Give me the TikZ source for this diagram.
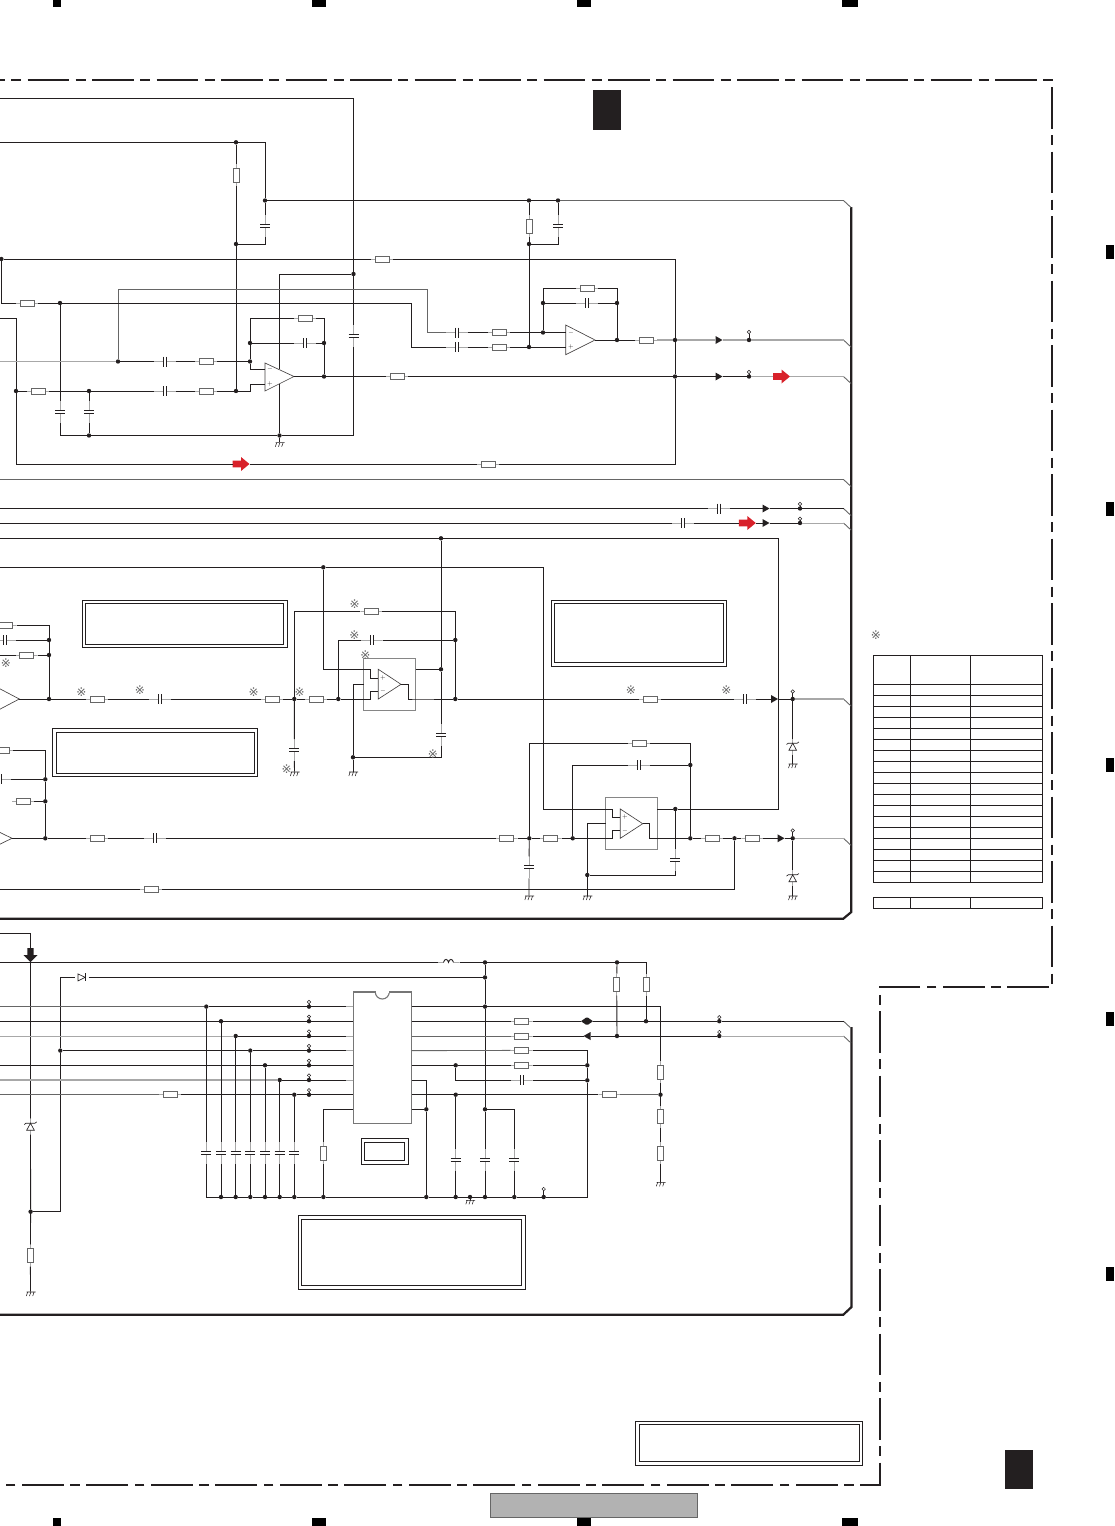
\documentclass[tikz,border=0pt]{standalone}
\usepackage{fontspec}
\newfontfamily\markfont{DejaVu Sans}
\usetikzlibrary{calc}
\definecolor{inkc}{HTML}{231F20}
\definecolor{leadc}{HTML}{A8A8A8}
\definecolor{midc}{HTML}{666666}
\definecolor{redc}{HTML}{D8212A}
\newcommand{\ppc}{path picture bounding box.center}
\tikzset{
wire/.style={draw=inkc,line width=0.9pt},
wireg/.style={draw=leadc,line width=1.3pt},
wirem/.style={draw=midc,line width=0.9pt},
box/.style={draw=inkc,line width=0.9pt},
dot/.style={circle,fill=inkc,inner sep=0pt,outer sep=0pt,minimum size=4.4pt},
term/.style={circle,draw=inkc,fill=white,line width=0.5pt,inner sep=0pt,outer sep=0pt,minimum size=3.4pt},
part/.style={rectangle,inner sep=0pt,outer sep=0pt},
resH/.style={part,minimum width=22pt,minimum height=8pt,path picture={
	\begin{scope}[shift={(\ppc)}]
	\draw[wireg,line width=0.8pt] (-11,0) -- (11,0);
	\draw[draw=midc,fill=white,line width=0.9pt] (-7,-3) rectangle (7,3);
	\end{scope}}},
resV/.style={part,minimum width=8pt,minimum height=22pt,path picture={
	\begin{scope}[shift={(\ppc)}]
	\draw[wireg,line width=0.8pt] (0,-11) -- (0,11);
	\draw[draw=midc,fill=white,line width=0.9pt] (-3,-7) rectangle (3,7);
	\end{scope}}},
capH/.style={part,minimum width=22pt,minimum height=11pt,path picture={
	\begin{scope}[shift={(\ppc)}]
	\draw[wireg,line width=0.8pt] (-11,0) -- (11,0);
	\fill[white] (-1.4,-5) rectangle (1.4,5);
	\draw[wire] (-1.4,-5) -- (-1.4,5) (1.4,-5) -- (1.4,5);
	\end{scope}}},
capV/.style={part,minimum width=11pt,minimum height=22pt,path picture={
	\begin{scope}[shift={(\ppc)}]
	\draw[wireg,line width=0.8pt] (0,-11) -- (0,11);
	\fill[white] (-5,-1.4) rectangle (5,1.4);
	\draw[wire] (-5,-1.4) -- (5,-1.4) (-5,1.4) -- (5,1.4);
	\end{scope}}},
triR/.style={part,minimum width=7pt,minimum height=8pt,path picture={
	\fill[inkc,shift={(\ppc)}] (-3.5,-4) -- (3.5,0) -- (-3.5,4) -- cycle;}},
triL/.style={part,minimum width=7pt,minimum height=8pt,path picture={
	\fill[inkc,shift={(\ppc)}] (3.5,-4) -- (-3.5,0) -- (3.5,4) -- cycle;}},
dblarr/.style={part,minimum width=12pt,minimum height=8pt,path picture={
	\fill[inkc,shift={(\ppc)}] (-6,0) -- (-1,-3.5) -- (1,-3.5) -- (6,0) -- (1,3.5) -- (-1,3.5) -- cycle;}},
redarr/.style={part,minimum width=17pt,minimum height=14pt,path picture={
	\fill[redc,shift={(\ppc)}] (-8.5,-3.3) -- (0,-3.3) -- (0,-7) -- (8.5,0) -- (0,7) -- (0,3.3) -- (-8.5,3.3) -- cycle;}},
downarr/.style={part,minimum width=14pt,minimum height=14pt,path picture={
	\fill[inkc,shift={(\ppc)}] (-3.2,-7) -- (3.2,-7) -- (3.2,0) -- (7,0) -- (0,7) -- (-7,0) -- (-3.2,0) -- cycle;}},
gnd/.style={part,minimum width=12pt,minimum height=5pt,path picture={
	\begin{scope}[shift={(\ppc)}]
	\draw[wire,line width=0.55pt] (-4,-2) -- (5,-2) (-2.8,-2) -- (-4.2,2) (0.4,-2) -- (-1,2) (3.6,-2) -- (2.2,2);
	\end{scope}}},
zenerV/.style={part,minimum width=14pt,minimum height=16pt,path picture={
	\begin{scope}[shift={(\ppc)}]
	\draw[wireg,line width=0.8pt] (0,-8) -- (0,8);
	\draw[wire,line width=0.65pt,fill=white] (-3.8,3.5) -- (3.8,3.5) -- (0,-3.5) -- cycle;
	\draw[wire,line width=0.65pt] (-6.2,-2.2) -- (-4.5,-3.5) -- (4.5,-3.5) -- (6.2,-4.8);
	\end{scope}}},
diodeH/.style={part,minimum width=14pt,minimum height=9pt,path picture={
	\begin{scope}[shift={(\ppc)}]
	\draw[wire,line width=0.65pt] (-3.7,-3.5) -- (3.5,0) -- (-3.7,3.5) -- cycle;
	\draw[wire,line width=0.65pt] (3.5,-4) -- (3.5,4);
	\end{scope}}},
coilH/.style={part,minimum width=22pt,minimum height=9pt,path picture={
	\begin{scope}[shift={(\ppc)}]
	\draw[wireg,line width=0.8pt] (-11,0) -- (-5,0) (5,0) -- (11,0);
	\draw[wire] (-5,0) .. controls (-4,-4) and (-0.8,-4) .. (0,0) .. controls (0.8,-4) and (4,-4) .. (5,0);
	\end{scope}}},
ampbody/.style={draw=inkc!85,line width=0.65pt},
icbox/.style={draw=leadc!70!black,line width=1.1pt,fill=white},
pmsign/.style={inner sep=0pt,text=inkc,font=\fontsize{6}{6}\selectfont},
hatch/.style={inner sep=0pt,text=black!60,font=\markfont\fontsize{12}{12}\selectfont},
}
\begin{document}
\begin{tikzpicture}[x=1pt,y=-1pt]
\useasboundingbox (0,0) rectangle (1114,1526);
% margin marks
\foreach \a/\b in {53/61,312/326,577/591,842/858} {
	\fill[black] (\a,0) rectangle (\b,7.3);
	\fill[black] (\a,1517.7) rectangle (\b,1526);
}
\foreach \y in {245,502,758,1012,1267}
	\fill[black] (1106,\y) rectangle (1114,\y+14);
\fill[inkc] (593,90) rectangle (621,130);
\fill[inkc] (1005,1450) rectangle (1033,1489);
\draw[draw=midc,fill=black!30,line width=0.8pt] (490,1493) rectangle (697.5,1517.3);
% dash dot frame
\draw[inkc,line width=2pt,dash pattern=on 41.7pt off 6.5pt on 9.8pt off 6.5pt,dash phase=37pt]
	(0,79.5) -- (1052,79.5) -- (1052,987) -- (879.7,987) -- (879.7,1485) -- (0,1485);
% section outlines
\draw[inkc,line width=2.2pt] (851.3,207) -- (851.3,912) -- (843.3,918.7) -- (0,918.7);
\draw[inkc,line width=2.2pt] (851.5,1027) -- (851.5,1307) -- (843.3,1314.7) -- (0,1314.7);
% note frames
\foreach \a/\b/\c/\d/\e/\f/\g/\h in {
	82/600/287.7/647/85/603/283.7/644.7,
	52/728/257.5/776.5/56/732/254.5/773,
	551/600/726.5/666.5/554/603/723.5/662.5,
	298/1215.5/525.5/1289.5/301.5/1219/521.5/1285.5,
	361/1138.5/408.5/1164/364.5/1142/404.5/1160.5,
	635.3/1421.3/862.5/1465.3/639.3/1424.3/859.7/1461.7} {
	\draw[box] (\a,\b) rectangle (\c,\d);
	\draw[box] (\e,\f) rectangle (\g,\h);
}
% table
\draw[box] (873.3,655.3) rectangle (1042.5,882.3);
\draw[box] (873.3,897.3) rectangle (1042.5,908.3);
\foreach \x in {910.3,970.3} {
	\draw[box] (\x,655.3) -- (\x,882.3);
	\draw[box] (\x,897.3) -- (\x,908.3);
}
\foreach \i in {0,...,17}
	\draw[box] (873.3,684.3+\i*11) -- (1042.5,684.3+\i*11);
% junctions
\foreach \n/\x/\y in {J1/236/142.3,J2/265/200.5,J3/529/200.5,J4/558/200.5,J5/236/244,J6/529/244,
	J7/1.4/259,J8/353.5/274,J9/60/303,J10/118/361.5,J11/250/361.5,J12/250/343,J13/324/343,
	J14/324/376.5,J15/16/391,J16/89/391,J17/236/391,J18/89/435.5,J19/279.5/435.5,J20/543/303,
	J21/617/303,J22/543/332.5,J23/529/347,J24/617/340,J25/675/340,J26/749/340,J27/675/376.5,
	J28/749/376.5,J29/800/508.5,J30/800/523,
	J31/441/538.3,J32/323.3/567.3,J33/49/640,J34/49/655,J35/49/699,J36/294.3/699,J37/338.3/699,
	J38/455.3/640,J39/455.3/699,J40/441/669.3,J41/353/757.3,J42/792.7/699,J43/45.3/779.3,
	J44/45.3/801.3,J45/45.3/838.3,J46/529.3/838.3,J47/572.7/838.3,J48/587.3/875,J49/675.3/809,
	J50/690.3/765,J51/690.3/838.3,J52/734.5/838.3,J53/792.7/838.3,
	J54/485/962.4,J55/617/962.4,J56/485/977.4,J57/60.3/1050.6,J58/206.3/1006.6,J59/221/1021.2,
	J60/235.7/1036,J61/250.3/1050.6,J62/265/1065.3,J63/279.7/1080,J64/294.3/1094.7,
	P1/309/1006.6,P2/309/1021.2,P3/309/1036,P4/309/1050.6,P5/309/1065.3,P6/309/1080,P7/309/1094.7,
	J65/485/1006.6,J66/646/1021.2,J67/617/1036,J68/719.3/1021.2,J69/719.3/1036,J70/587.3/1065.3,
	J71/455.7/1065.3,J72/587.3/1080.3,J73/455.7/1094.7,J74/660.5/1094.7,J75/426.3/1109.3,
	J76/485/1109.3,J77/30.6/1211.7,
	B1/221/1197,B2/235.7/1197,B3/250.3/1197,B4/265/1197,B5/279.7/1197,B6/294.3/1197,B7/323.4/1197,
	B8/426.3/1197,B9/455.7/1197,B10/470/1197,B11/485/1197,B12/514.3/1197,B13/543.7/1197}
	\node[dot] (\n) at (\x,\y) {};
% test points
\foreach \n/\j/\x/\y in {T1/J26/749/332,T2/J28/749/372,T3/J29/800/504,T4/J30/800/518.7,T5/J42/792.7/691.5,
	T6/J53/792.7/830.5,T7/P1/309/1002,T8/P2/309/1016.6,T9/P3/309/1031.4,T10/P4/309/1046,T11/P5/309/1060.7,
	T12/P6/309/1075.4,T13/P7/309/1090.1,T14/J68/719.3/1017.2,T15/J69/719.3/1032,T16/B13/543.7/1189} {
	\node[term] (\n) at (\x,\y) {};
	\draw[wire,line width=0.55pt] (\j) -- (\n);
}
% resistors
\foreach \n/\x/\y in {R2/382/259,R3/27/303,R4/38/391,R5/206/361.5,R6/206/391,R7/305/318,R8/397/376.5,
	R9/499/332.5,R10/499/347,R11/587/288,R12/646/340,R13/488/464,
	R14/5.5/625.5,R15/26.7/655,R16/97/699,R17/272/699,R18/316/699,R19/371.3/611,R20/650/699,
	R21/2/750.3,R22/23/801.3,R23/97/838.3,R24/506.7/838.3,R25/550.7/838.3,R26/639/743,R27/712/838.3,
	R28/752.3/838.3,R29/151/889.3,R30/170/1094.7,R31/521.7/1021.2,R32/521.7/1036,R33/521.7/1050.4,
	R34/521.7/1065.3,R35/609.3/1094.7}
	\node[resH] (\n) at (\x,\y) {};
\foreach \n/\x/\y in {R1/236/175,R40/529/226,R41/30.4/1255.7,R42/323.4/1153,R43/616.7/984.7,R44/646/984.7,
	R45/660.5/1072.3,R46/660.5/1116.7,R47/660.5/1153.3}
	\node[resV] (\n) at (\x,\y) {};
% capacitors
\foreach \n/\x/\y in {C3/165/361.5,C4/165/391,C5/305/343,C6/457/332.5,C7/457/347,C8/587/303,C9/719/508.5,C10/683/523,
	C11/5/640,C12/160/699,C13/371.7/640,C14/745/699,C15/0/779.3,C16/155/838.3,C17/639/765,C18/521.7/1080.3}
	\node[capH] (\n) at (\x,\y) {};
\foreach \n/\x/\y in {C1/265/226,C2/558/226,C20/353.5/336,C21/60/412,C22/89/412,C23/294.3/750,C24/441/735,
	C25/529/867.3,C26/675.3/860,
	C31/206.3/1153,C32/221/1153,C33/235.7/1153,C34/250.3/1153,C35/265/1153,C36/279.7/1153,C37/294.3/1153,
	C38/455.7/1160,C39/485/1160,C40/514.3/1160}
	\node[capV] (\n) at (\x,\y) {};
% grounds
\foreach \n/\x/\y in {G1/279.5/444.7,G2/294.5/774,G3/353/774,G4/792.7/766,G5/529/898,G6/587.3/898,G7/792.7/898,
	G8/30.5/1294,G9/660.5/1184.3,G10/470/1202.3}
	\node[gnd] (\n) at (\x,\y) {};
% arrows, diodes, coil
\foreach \n/\x/\y in {A1/719/340,A2/719/376.5,A3/766/508.5,A4/766/523,A5/774.5/699,A6/781/838.3}
	\node[triR] (\n) at (\x,\y) {};
\node[triL] (A7) at (587,1036) {};
\node[dblarr] (A8) at (587,1021.2) {};
\foreach \n/\x/\y in {F1/241/464,F2/781.5/376.5,F3/747.3/523}
	\node[redarr] (\n) at (\x,\y) {};
\node[downarr] (F4) at (30.5,955) {};
\foreach \n/\x/\y in {Z1/792.7/746.7,Z2/792.7/878.3,Z3/30.5/1126.7}
	\node[zenerV] (\n) at (\x,\y) {};
\node[diodeH] (D1) at (81.7,977.4) {};
\node[coilH] (L1) at (448.5,962.4) {};
% left ends of the lines
\foreach \n/\y in {Ea/98.5,Eb/142.3,Ec/318,Ed/361.5,Ee/479.5,Ef/508.5,Eg/523,Eh/538.3,Ei/567.3,Ej/655,Ek/750.3,
	El/889.3,Em/933.5,En/962.4,Eo/1006.6,Ep/1021.2,Eq/1036,Er/1065.3,Es/1080,Et/1094.7}
	\coordinate (\n) at (0,\y);
% right ends with the bent tip
\foreach \n/\y in {1/200.5,2/340,3/376.5,4/479.5,5/508.5,6/523,7/699,8/838.3,9/1021.2,10/1036} {
	\coordinate (X\n) at (843.5,\y);
	\coordinate (Y\n) at (851,\y+7);
	\draw[wirem] (X\n) -- (Y\n);
}
% amplifier outlines
\draw[ampbody] (265,363) -- (294,376.5) -- (265,391) -- cycle;
\draw[ampbody] (565.7,325) -- (595,340) -- (565.7,354.7) -- cycle;
\draw[draw=leadc!80!black,line width=1.1pt] (363.7,658.3) rectangle (415.7,710.3);
\draw[ampbody] (378.3,669.3) -- (401,684.3) -- (378.3,699) -- cycle;
\draw[draw=leadc!80!black,line width=1.1pt] (605.7,797.7) rectangle (657.3,849.3);
\draw[ampbody] (620.3,809) -- (642.7,823.7) -- (620.3,838.3) -- cycle;
\foreach \n/\x/\y/\s in {S1/270/369/-,S2/270/384/+,S3/571/332.5/-,S4/571/347/+,S5/383/678.3/+,S6/383/691/-,S7/625/817/+,S8/625/830.5/-}
	\node[pmsign] (\n) at (\x,\y) {$\s$};
\foreach \n/\x/\y in {Aa/279.5/369,Ab/279.5/384,Ac/265/369,Ad/265/384,Ae/250.5/384,Af/294/376.5,Ag/565.7/332.5,Ah/565.7/347,Ai/595/340,
	Ba/363.7/669.3,Bb/363.7/684.3,Bc/363.7/699,Bd/415.7/669.3,Be/415.7/699,Bf/378.3/678.3,Bg/378.3/691,Bh/401/684.3,
	Da/605.7/809,Db/605.7/823.7,Dc/605.7/838.3,Dd/657.3/809,De/657.3/838.3,Df/620.3/817,Dg/620.3/830.5,Dh/642.7/823.7,
	Ka/427/289.5,Kb/411/303,Kc/778.3/809,Kd/543.3/809}
	\coordinate (\n) at (\x,\y);
% top block
\draw[wire] (Ea) -| (J8) -- (C20) (C20) |- (J19) -- (G1);
\draw[wire] (Eb) -- (J1) -| (J2) -- (C1) (C1) |- (J5);
\draw[wire] (J1) -- (R1) -- (J5) -- (J17);
\draw[wire] (J2) -- (J3) -- (J4);
\draw[wirem] (J4) -- (X1);
\draw[wire] (J3) -- (R40) -- (J6) -- (J23);
\draw[wire] (J6) -| (C2) (C2) -- (J4);
\draw[wire] (J7) -- (R2) -| (J25);
\draw[wire] (J8) -| (Aa) (Ab) -- (J19) -- (J18);
\draw[wirem] (J10) |- (Ka) |- (C6);
\draw[wire] (C6) -- (R9) -- (J22) -- (Ag);
\draw[wire] (J7) |- (R3) -- (J9) -- (Kb) |- (C7);
\draw[wire] (C7) -- (R10) -- (J23) -- (Ah);
\draw[wire] (J9) -- (C21) (C21) |- (J18) (J16) -- (C22) -- (J18);
\draw[wire] (Ec) -| (J15) |- (F1) -- (R13) -| (J27);
\draw[wire] (J15) -- (R4) -- (J16) -- (C4) -- (R6) -- (J17) -| (Ae) -- (Ad);
\draw[wireg] (Ed) -- (J10);
\draw[wire] (J10) -- (C3) -- (R5) -- (J11) |- (Ac);
\draw[wire] (J11) -- (J12) |- (R7) -| (J13) -- (J14) (J12) -- (C5) -- (J13);
\draw[wire] (Af) -- (J14) -- (R8) -- (J27) -- (A2) -- (J28);
\draw[wireg] (J28) -- (F2);
\draw[wireg,line width=0.9pt] (F2) -- (X3);
\draw[wire] (J22) -- (J20) |- (R11) -| (J21) -- (J24) (J20) -- (C8) -- (J21);
\draw[wire] (Ai) -- (J24) -- (R12) (J25) -- (J27);
\draw[wireg] (R12) -- (J25) -- (A1) -- (J26) -- (X2);
% bus lines
\draw[wirem] (Ee) -- (X4);
\draw[wire] (Ef) -- (C9) -- (A3) -- (J29) -- (X5);
\draw[wire] (Eg) -- (C10) -- (F3) -- (A4) -- (J30);
\draw[wireg,line width=0.9pt] (J30) -- (X6);
\draw[wire] (Eh) -- (J31) -| (Kc) -- (J49) -- (Dd);
\draw[wire] (Ei) -- (J32) -| (Kd) -- (Da);
% upper channel
\draw[wire] (R14) -| (J33) -- (J34) -- (J35);
\draw[wire] (C11) -- (J33) (Ej) -- (R15) -- (J34);
\draw[ampbody] (-2,687.8) -- (19.3,699) -- (-2,710.2);
\draw[wire] (19.3,699) -- (J35) -- (R16) -- (C12) -- (R17) -- (J36) -- (R18) -- (J37) -- (Bc);
\draw[wire] (J36) |- (R19) -| (J38) -- (J39) (J37) |- (C13) (C13) -- (J38);
\draw[wire] (J36) -- (C23) -- (G2);
\draw[wire] (J32) |- (Ba) (J31) -- (J40) -- (C24) (C24) |- (J41) -- (G3);
\draw[wire] (J41) |- (Bb) (Bd) -- (J40);
\draw[wire] (Ba) -- ++(7,0) |- (Bf) (Bc) -- ++(7,0) |- (Bg);
\draw[wire] (Bh) -- ++(7,0) |- (Be) -- (J39) -- (R20) -- (C14) -- (A5) -- (J42);
\draw[wireg] (J42) -- (X7);
\draw[wire] (J42) -- (Z1) -- (G4);
% lower channel
\draw[wire] (R21) -| (J43) -- (J44) -- (J45);
\draw[wire] (C15) -- (J43) (R22) -- (J44);
\draw[ampbody] (-2,831.5) -- (12,838.3) -- (-2,845.1);
\draw[wire] (12,838.3) -- (J45) -- (R23) -- (C16) -- (R24) -- (J46) -- (R25) -- (J47) -- (Dc);
\draw[wire] (J46) |- (R26) -| (J50) -- (J51) (J47) |- (C17) (C17) -- (J50);
\draw[wire] (J46) -- (C25) -- (G5);
\draw[wire] (J48) |- (Db) (J48) -- (G6) (J49) -- (C26) (C26) |- (J48);
\draw[wire] (Da) -- ++(7,0) |- (Df) (Dc) -- ++(7,0) |- (Dg);
\draw[wire] (Dh) -- ++(7,0) |- (De) -- (J51) -- (R27) -- (J52) -- (R28) -- (A6) -- (J53);
\draw[wireg] (J53) -- (X8);
\draw[wire] (J53) -- (Z2) -- (G7);
\draw[wire] (El) -- (R29) -| (J52);
% power block
\draw[wire] (Em) -| (F4) -- (Z3) -- (J77) -- (R41) -- (G8);
\draw[wire] (En) -- (L1) -- (J54) -- (J55) -| (R44) -- (J66);
\draw[wire] (J55) -- (R43) -- (J67);
\draw[wire] (J77) -| (J57) |- (D1) -- (J56);
\draw[wire] (J54) -- (J56) -- (J65) -- (J76) -- (C39) -- (B11);
\draw[icbox] (353.3,992) rectangle (411.7,1123.7);
\draw[icbox] (375.3,992) arc[start angle=180,end angle=360,radius=7pt];
\fill[white] (375.9,991.2) rectangle (388.7,992.8);
\foreach \n/\y in {1/1006.6,2/1021.2,3/1036,4/1050.6,5/1065.3,6/1080,7/1094.7,8/1109.3} {
	\coordinate (U\n) at (353.3,\y);
	\coordinate (V\n) at (411.7,\y);
	\draw[wireg,line width=0.9pt] (U\n) -- ++(-7,0) (V\n) -- ++(7,0);
}
\draw[wirem] (Eo) -- (J58);
\draw[wire] (J58) -- (P1) -- ++(37,0);
\draw[wire] (Ep) -- (J59) -- (P2) -- (U2);
\draw[wireg,line width=0.9pt] (Eq) -- (J60);
\draw[wire] (J60) -- (P3) -- ++(37,0);
\draw[wire] (J57) -- (J61) -- (P4) -- ++(37,0);
\draw[wire] (Er) -- (J62) -- (P5) -- (U5);
\draw[wireg] (Es) -- (J63);
\draw[wire] (J63) -- (P6) -- ++(37,0);
\draw[wirem] (Et) -- (R30);
\draw[wire] (R30) -- (J64) -- (P7) -- (U7);
\draw[wire] (J58) -- (C31) (C31) |- (B1) -- (B2) -- (B3) -- (B4) -- (B5) -- (B6) -- (B7) -- (B8) -- (B9) -- (B10) -- (B11) -- (B12) -- (B13) -| (J72) -- (J70);
\foreach \j/\c/\b in {J59/C32/B1,J60/C33/B2,J61/C34/B3,J62/C35/B4,J63/C36/B5,J64/C37/B6}
	\draw[wire] (\j) -- (\c) -- (\b);
\draw[wire] (B10) -- (G10);
\draw[wire] (V1) -- (J65) -| (R45) -- (J74) -- (R46) -- (R47) -- (G9);
\draw[wire] (V2) -- (R31) -- (A8) -- (J66) -- (J68) -- (X9);
\draw[wirem] (V3) -- (R32);
\draw[wire] (R32) -- (A7) -- (J67) -- (J69);
\draw[wireg,line width=0.9pt] (J69) -- (X10);
\draw[wirem] (V4) -- (R33);
\draw[wire] (R33) -| (J70);
\draw[wire] (V5) -- (J71) -- (R34) -- (J70) (J71) |- (C18) (C18) -- (J72);
\draw[wire] (V6) -| (J75) -- (B8) (V8) -- (J75);
\draw[wire] (V7) -- (J73) -- (R35);
\draw[wirem] (R35) -- (J74);
\draw[wire] (J73) -- (C38) -- (B9);
\draw[wire] (J76) -| (C40) (C40) -- (B12);
\draw[wire] (U8) -| (R42) -- (B7);
% hatch marks
\foreach \n/\x/\y in {M1/6/662.7,M2/81.3/692,M3/140/690,M4/253.7/692,M5/299.7/692,M6/354.7/604,M7/354.3/635,M8/365.3/655.3,
	M9/433/754.3,M10/286.7/768.7,M11/631/690,M12/726.3/690,M13/876/634.7}
	\node[hatch] (\n) at (\x,\y) {※};
\end{tikzpicture}
\end{document}
